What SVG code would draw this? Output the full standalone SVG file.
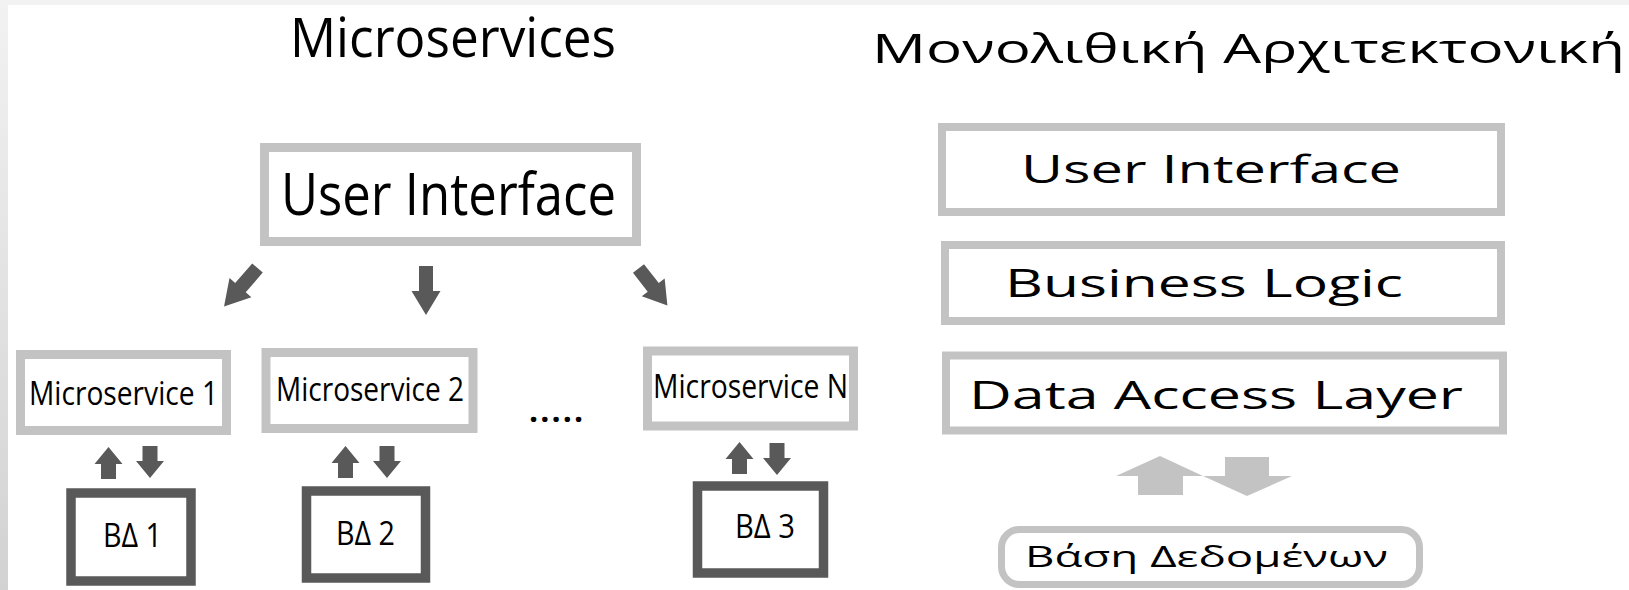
<svg xmlns="http://www.w3.org/2000/svg" width="1629" height="590" viewBox="0 0 1629 590">
<defs>
<linearGradient id="lb" x1="0" y1="0" x2="0" y2="1">
<stop offset="0" stop-color="#f2f2f2"/>
<stop offset="1" stop-color="#d2d2d2"/>
</linearGradient>
<polygon id="bigDown" points="-7,0 7,0 7,25 14.5,25 0,49 -14.5,25 -7,25"/>
<polygon id="diagDown" points="-7,0 7,0 7,26 14.5,26 0,51 -14.5,26 -7,26"/>
<polygon id="smDown" points="-7.5,0 7.5,0 7.5,15 14,15 0,32 -14,15 -7.5,15"/>
<polygon id="smUp" points="-7.5,32 7.5,32 7.5,17 14,17 0,0 -14,17 -7.5,17"/>
</defs>
<style>
text{font-family:"Open Sans","Noto Sans","DejaVu Sans",sans-serif;fill:#000}
.lb{fill:#fff;stroke:#c3c3c3}
.db{fill:#fff;stroke:#595959;stroke-width:9.5}
.da{fill:#595959}
.la{fill:#c3c3c3}
</style>
<rect x="0" y="0" width="1629" height="590" fill="#fff"/>
<rect x="0" y="0" width="1629" height="5" fill="#f2f2f2"/>
<rect x="0" y="0" width="8" height="590" fill="url(#lb)"/>

<text x="290" y="57" font-size="54" textLength="326" lengthAdjust="spacingAndGlyphs">Microservices</text>
<text x="872" y="63" font-size="41" textLength="753" lengthAdjust="spacingAndGlyphs">Μονολιθική Αρχιτεκτονική</text>

<g id="ms-ui">
<rect class="lb" x="264.5" y="147.5" width="372" height="94" stroke-width="9"/>
<text x="281" y="215" font-size="59" textLength="335" lengthAdjust="spacingAndGlyphs">User Interface</text>
</g>
<g id="ms1">
<rect class="lb" x="20.5" y="354.5" width="206" height="76" stroke-width="9"/>
<text x="29" y="405" font-size="32" textLength="189" lengthAdjust="spacingAndGlyphs">Microservice 1</text>
</g>
<g id="ms2">
<rect class="lb" x="266" y="352.5" width="207" height="76" stroke-width="9"/>
<text x="276" y="401" font-size="32" textLength="188" lengthAdjust="spacingAndGlyphs">Microservice 2</text>
</g>
<g id="msn">
<rect class="lb" x="647.5" y="351" width="206" height="75" stroke-width="9"/>
<text x="653" y="398" font-size="32" textLength="195" lengthAdjust="spacingAndGlyphs">Microservice N</text>
</g>
<g id="dots">
<text x="529" y="422" font-size="32" font-weight="bold" textLength="54" lengthAdjust="spacing">.....</text>
</g>
<g id="db1">
<rect class="db" x="71" y="493" width="120" height="88"/>
<text x="103" y="547" font-size="33" textLength="59" lengthAdjust="spacingAndGlyphs">BΔ 1</text>
</g>
<g id="db2">
<rect class="db" x="306.5" y="491" width="119" height="87"/>
<text x="336" y="545" font-size="33" textLength="59" lengthAdjust="spacingAndGlyphs">BΔ 2</text>
</g>
<g id="db3">
<rect class="db" x="697.5" y="486" width="126" height="87"/>
<text x="735" y="538" font-size="33" textLength="60" lengthAdjust="spacingAndGlyphs">BΔ 3</text>
</g>

<g id="mono-ui">
<rect class="lb" x="942" y="127" width="559" height="85" stroke-width="8"/>
<text x="1021" y="183" font-size="39" textLength="380" lengthAdjust="spacingAndGlyphs">User Interface</text>
</g>
<g id="mono-bl">
<rect class="lb" x="945" y="245" width="556" height="76" stroke-width="8"/>
<text x="1005" y="297" font-size="39" textLength="398" lengthAdjust="spacingAndGlyphs">Business Logic</text>
</g>
<g id="mono-dal">
<rect class="lb" x="946" y="355.5" width="557" height="75" stroke-width="8"/>
<text x="969" y="409" font-size="38" textLength="494" lengthAdjust="spacingAndGlyphs">Data Access Layer</text>
</g>
<g id="mono-db">
<rect class="lb" x="1001.5" y="529.5" width="418" height="55" rx="18" stroke-width="7"/>
<text x="1025" y="567" font-size="30" textLength="363" lengthAdjust="spacingAndGlyphs">Βάση Δεδομένων</text>
</g>

<g id="connectors">
<use href="#diagDown" class="da" transform="translate(257.5,268) rotate(41)"/>
<use href="#bigDown" class="da" transform="translate(426,266)"/>
<use href="#diagDown" class="da" transform="translate(638.5,268.5) rotate(-38) scale(1,0.92)"/>
<use href="#smUp" class="da" transform="translate(108.5,447)"/>
<use href="#smDown" class="da" transform="translate(150,446)"/>
<use href="#smUp" class="da" transform="translate(345.5,446)"/>
<use href="#smDown" class="da" transform="translate(387,446)"/>
<use href="#smUp" class="da" transform="translate(739.5,442)"/>
<use href="#smDown" class="da" transform="translate(777,443)"/>
<polygon class="la" points="1116,476 1160,456 1203,476 1183,476 1183,495 1138,495 1138,476"/>
<polygon class="la" points="1225,457 1269,457 1269,476 1292,476 1247,496 1203,476 1225,476"/>
</g>
</svg>
